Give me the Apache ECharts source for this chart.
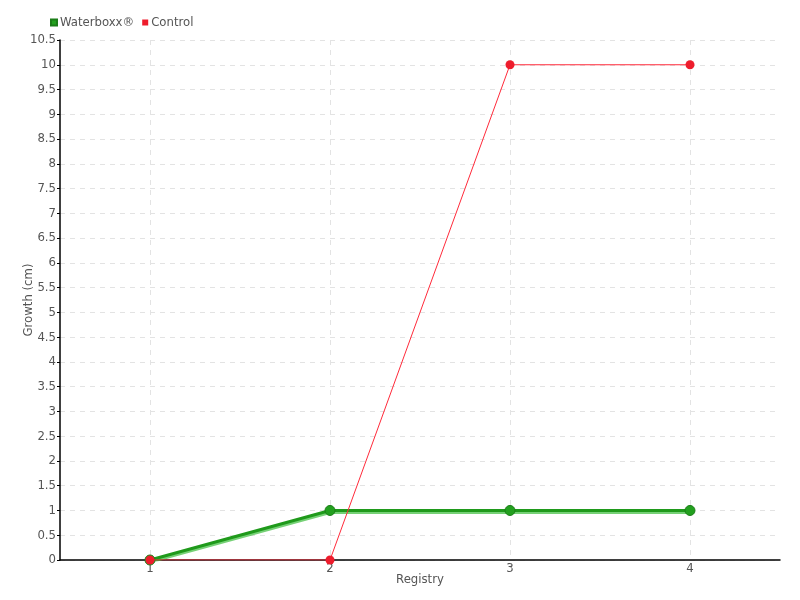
<!DOCTYPE html>
<html>
<head>
<meta charset="utf-8">
<script src="https://cdn.jsdelivr.net/npm/echarts@6/dist/echarts.min.js"></script>
<style>
  html, body { margin: 0; padding: 0; background: #fff; }
  #chart { width: 800px; height: 600px; }
</style>
</head>
<body>
<div id="chart"></div>
<script>
  var registries = ['1', '2', '3', '4'];
  var waterboxx = [0, 1, 1, 1];
  var control = [0, 0, 10, 10];

  var font = '"DejaVu Sans Condensed", "DejaVu Sans", sans-serif';
  var textColor = '#555';

  // helper axis: half steps so the vertical grid lines sit on the category centres
  var halfSteps = [];
  for (var i = 0; i <= registries.length * 2; i++) halfSteps.push(String(i));

  var chart = echarts.init(document.getElementById('chart'));
  var option = {
    animation: false,
    textStyle: { fontFamily: font },
    legend: {
      left: 45,
      top: 11,
      itemWidth: 6,
      itemHeight: 6,
      itemGap: 8,
      icon: 'rect',
      textStyle: { color: textColor, fontSize: 13, fontFamily: font, padding: [0, 0, 0, -2] },
      data: ['Waterboxx®', 'Control']
    },
    grid: { left: 60, right: 20, top: 40, bottom: 40, containLabel: false, outerBoundsMode: 'none' },
    xAxis: [
      {
        type: 'category',
        data: registries,
        boundaryGap: true,
        name: 'Registry',
        nameLocation: 'middle',
        nameGap: 13,
        nameMoveOverlap: false,
        nameTextStyle: { color: textColor, fontSize: 13, fontFamily: font },
        axisLine: { lineStyle: { color: '#000', width: 1.5 } },
        axisTick: { alignWithLabel: true, length: 4, lineStyle: { color: '#000' } },
        axisLabel: { color: textColor, fontSize: 13, margin: 2, fontFamily: font },
        splitLine: { show: false }
      },
      {
        type: 'category',
        data: halfSteps,
        boundaryGap: false,
        position: 'bottom',
        axisLine: { show: false },
        axisTick: { show: false },
        axisLabel: { show: false },
        splitLine: {
          show: true,
          interval: function (idx) { return idx % 2 === 1; },
          lineStyle: { color: '#e3e3e3', type: [5, 5] }
        }
      }
    ],
    yAxis: {
      type: 'value',
      min: 0,
      max: 10.5,
      interval: 0.5,
      name: 'Growth (cm)',
      nameLocation: 'middle',
      nameGap: 25,
      nameMoveOverlap: false,
      nameTextStyle: { color: textColor, fontSize: 13, fontFamily: font },
      axisLine: { show: true, lineStyle: { color: '#000', width: 1.5 } },
      axisTick: { show: true, length: 3, lineStyle: { color: '#000' } },
      axisLabel: { color: textColor, fontSize: 13, margin: 4, fontFamily: font },
      splitLine: { show: true, lineStyle: { color: '#e3e3e3', type: [5, 5] } }
    },
    series: [
      {
        name: 'Waterboxx®',
        type: 'line',
        xAxisIndex: 0,
        data: waterboxx,
        color: '#22a01e',
        symbol: 'circle',
        symbolSize: 10,
        lineStyle: { width: 3, color: '#1f9a1b', shadowColor: 'rgba(60,190,60,0.7)', shadowOffsetY: 2, shadowBlur: 0 },
        itemStyle: { color: '#22a01e', borderColor: '#1b7d18', borderWidth: 1 },
        z: 2
      },
      {
        name: 'Control',
        type: 'line',
        xAxisIndex: 0,
        data: control,
        color: '#ee1c2c',
        symbol: 'circle',
        symbolSize: 9,
        lineStyle: { width: 1, color: '#ff2a3a' },
        itemStyle: { color: '#ee1c2c' },
        z: 3
      }
    ]
  };
  chart.setOption(option);
  window.onresize = function () { chart.resize(); };
</script>
</body>
</html>
